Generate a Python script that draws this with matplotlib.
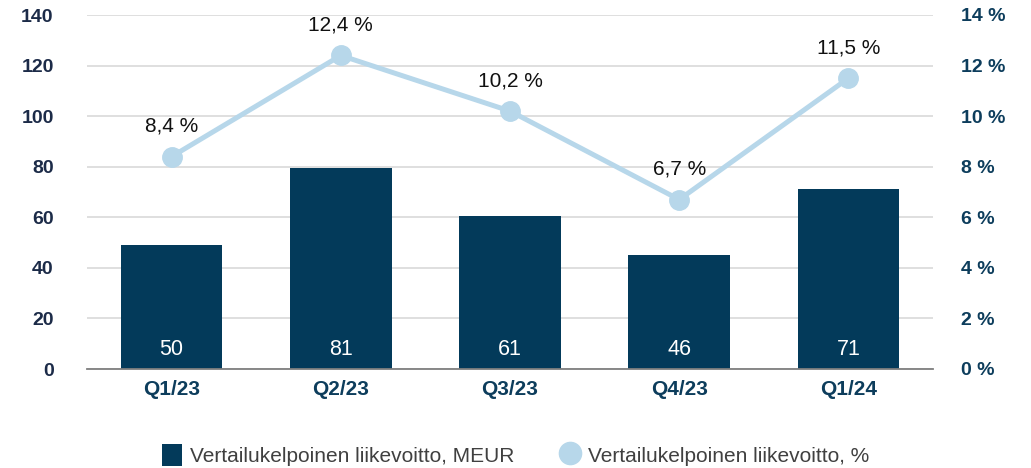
import matplotlib
matplotlib.use("Agg")
import matplotlib.pyplot as plt
from matplotlib.lines import Line2D
from matplotlib.patches import Patch

plt.rcParams['font.family'] = ['Liberation Sans', 'DejaVu Sans']

categories = ["Q1/23", "Q2/23", "Q3/23", "Q4/23", "Q1/24"]
ebit_meur = [49, 79.5, 60.5, 45, 71]
ebit_labels = ["50", "81", "61", "46", "71"]
ebit_pct = [8.4, 12.4, 10.2, 6.7, 11.5]
pct_labels = ["8,4 %", "12,4 %", "10,2 %", "6,7 %", "11,5 %"]
left_ticks = [0, 20, 40, 60, 80, 100, 120, 140]
right_ticks = [0, 2, 4, 6, 8, 10, 12, 14]

bar_color = "#033a5a"
line_color = "#b7d7ea"
left_tick_color = "#1c2b48"
right_tick_color = "#0d3d5c"

fig = plt.figure(figsize=(10.31, 4.68), dpi=100)
ax = fig.add_axes([87/1031, 1 - 369/468, (933-87)/1031, (369-15)/468])
x = list(range(len(categories)))
ax.bar(x, ebit_meur, width=0.6, color=bar_color, zorder=2)
ax.set_xlim(-0.5, len(categories) - 0.5)
ax.set_ylim(0, 140)
ax.set_yticks(left_ticks)
ax.set_yticklabels([str(t) for t in left_ticks], fontsize=14, fontweight='bold', color=left_tick_color)
ax.set_xticks(x)
ax.set_xticklabels(categories, fontsize=15, fontweight='bold', color=right_tick_color)
ax.tick_params(axis='both', length=0)
ax.tick_params(axis='y', pad=24)
ax.tick_params(axis='x', pad=8)
ax.grid(axis='y', color='#dcdcdc', linewidth=1.3, zorder=0)
for s in ['top', 'right', 'left']:
    ax.spines[s].set_visible(False)
ax.spines['bottom'].set_color('#7f7f7f')
ax.spines['bottom'].set_linewidth(1.3)
ax.spines['bottom'].set_zorder(3)

for xi, lab in zip(x, ebit_labels):
    ax.text(xi, 5.5, lab, ha='center', va='baseline', color='white', fontsize=15.5)

ax2 = ax.twinx()
ax2.set_ylim(0, 14)
ax2.set_yticks(right_ticks)
ax2.set_yticklabels([f"{t} %" for t in right_ticks], fontsize=14, fontweight='bold', color=right_tick_color)
ax2.tick_params(axis='y', length=0, pad=20)
for s in ['top', 'right', 'left', 'bottom']:
    ax2.spines[s].set_visible(False)
ax2.plot(x, ebit_pct, color=line_color, linewidth=3.6, marker='o', markersize=14, zorder=4)
for xi, v, lab in zip(x, ebit_pct, pct_labels):
    ax2.annotate(lab, (xi, v), xytext=(0, 15), textcoords='offset points',
                 ha='center', va='bottom', fontsize=15, color='#111111')

handles = [Patch(facecolor=bar_color, edgecolor='none'),
           Line2D([], [], color=line_color, marker='o', linestyle='none', markersize=16)]
fig.legend(handles, ["Vertailukelpoinen liikevoitto, MEUR", "Vertailukelpoinen liikevoitto, %"],
           loc='center', bbox_to_anchor=(0.5, 1 - 455/468), ncol=2, frameon=False,
           fontsize=15, labelcolor='#404040', handlelength=1.0, handleheight=1.3,
           columnspacing=2.2, handletextpad=0.35)

fig.savefig("out.png", dpi=100)
